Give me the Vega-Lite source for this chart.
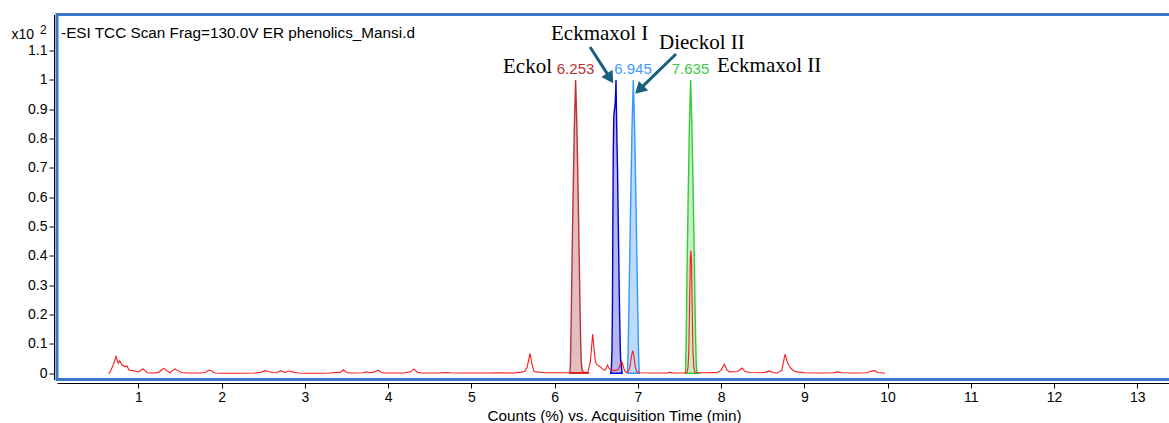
{
  "$schema": "https://vega.github.io/schema/vega-lite/v6.json",
  "width": 1114,
  "height": 365,
  "autosize": {"type": "none"},
  "padding": {"left": 57, "top": 14.5, "right": -2, "bottom": 43.5},
  "background": "white",
  "config": {
    "view": {"stroke": "#3b76c8", "strokeWidth": 3},
    "font": "Liberation Sans",
    "axis": {
      "domainColor": "black", "tickColor": "black", "labelColor": "black", "titleColor": "black",
      "labelFont": "Liberation Sans", "titleFont": "Liberation Sans",
      "labelFontSize": 14, "titleFontSize": 15.3, "titleFontWeight": "normal",
      "grid": false, "domainWidth": 1, "tickWidth": 1
    }
  },
  "datasets": {
    "tic": [
      {"t":0.64,"v":0},{"t":0.66,"v":0.003},{"t":0.70,"v":0.03},{"t":0.732,"v":0.057},{"t":0.75,"v":0.04},
      {"t":0.76,"v":0.034},{"t":0.776,"v":0.043},{"t":0.79,"v":0.035},{"t":0.808,"v":0.027},{"t":0.825,"v":0.026},
      {"t":0.84,"v":0.023},{"t":0.864,"v":0.025},{"t":0.888,"v":0.011},{"t":0.91,"v":0.01},{"t":0.936,"v":0.009},
      {"t":0.97,"v":0.007},{"t":1.0,"v":0.005},{"t":1.02,"v":0.008},{"t":1.053,"v":0.016},{"t":1.08,"v":0.009},
      {"t":1.11,"v":0.002},{"t":1.15,"v":0.001},{"t":1.2,"v":0.001},{"t":1.25,"v":0.004},{"t":1.28,"v":0.012},
      {"t":1.309,"v":0.017},{"t":1.34,"v":0.009},{"t":1.38,"v":0.002},{"t":1.41,"v":0.01},{"t":1.441,"v":0.015},
      {"t":1.47,"v":0.01},{"t":1.52,"v":0.003},{"t":1.6,"v":0.001},{"t":1.75,"v":0.001},{"t":1.8,"v":0.003},
      {"t":1.83,"v":0.008},{"t":1.854,"v":0.011},{"t":1.88,"v":0.008},{"t":1.92,"v":0.001},{"t":2.0,"v":0},
      {"t":2.2,"v":0},{"t":2.4,"v":0.001},{"t":2.48,"v":0.004},{"t":2.526,"v":0.009},{"t":2.56,"v":0.006},
      {"t":2.62,"v":0.003},{"t":2.66,"v":0.002},{"t":2.71,"v":0.009},{"t":2.76,"v":0.003},{"t":2.79,"v":0.006},
      {"t":2.815,"v":0.008},{"t":2.86,"v":0.004},{"t":2.92,"v":0.001},{"t":3.0,"v":0},{"t":3.2,"v":0},
      {"t":3.3,"v":0.001},{"t":3.43,"v":0.004},{"t":3.463,"v":0.012},{"t":3.5,"v":0.003},{"t":3.55,"v":0.001},
      {"t":3.7,"v":0.002},{"t":3.743,"v":0.005},{"t":3.78,"v":0.002},{"t":3.83,"v":0.004},{"t":3.883,"v":0.011},
      {"t":3.92,"v":0.003},{"t":3.96,"v":0.001},{"t":4.2,"v":0.001},{"t":4.27,"v":0.005},{"t":4.312,"v":0.015},
      {"t":4.35,"v":0.004},{"t":4.4,"v":0.001},{"t":4.6,"v":0.001},{"t":4.7,"v":0.003},{"t":4.75,"v":0.002},
      {"t":4.9,"v":0.001},{"t":5.2,"v":0.001},{"t":5.35,"v":0.002},{"t":5.5,"v":0.001},{"t":5.6,"v":0.004},
      {"t":5.64,"v":0.006},{"t":5.67,"v":0.02},{"t":5.705,"v":0.068},{"t":5.73,"v":0.03},{"t":5.75,"v":0.008},
      {"t":5.77,"v":0.005},{"t":5.85,"v":0.003},{"t":5.9,"v":0.002},{"t":6.0,"v":0.002},{"t":6.15,"v":0.002},
      {"t":6.25,"v":0.003},{"t":6.35,"v":0.003},{"t":6.4,"v":0.004},{"t":6.43,"v":0.04},{"t":6.458,"v":0.134},
      {"t":6.475,"v":0.08},{"t":6.49,"v":0.04},{"t":6.51,"v":0.03},{"t":6.53,"v":0.025},{"t":6.55,"v":0.022},
      {"t":6.568,"v":0.017},{"t":6.59,"v":0.012},{"t":6.608,"v":0.011},{"t":6.625,"v":0.02},{"t":6.636,"v":0.028},
      {"t":6.65,"v":0.02},{"t":6.67,"v":0.012},{"t":6.7,"v":0.01},{"t":6.74,"v":0.01},{"t":6.77,"v":0.015},
      {"t":6.79,"v":0.03},{"t":6.807,"v":0.04},{"t":6.82,"v":0.03},{"t":6.84,"v":0.01},{"t":6.86,"v":0.004},
      {"t":6.88,"v":0.003},{"t":6.905,"v":0.02},{"t":6.925,"v":0.06},{"t":6.939,"v":0.077},{"t":6.952,"v":0.06},
      {"t":6.97,"v":0.02},{"t":6.99,"v":0.005},{"t":7.02,"v":0.002},{"t":7.2,"v":0.001},{"t":7.35,"v":0.001},
      {"t":7.387,"v":0.004},{"t":7.42,"v":0.001},{"t":7.55,"v":0.001},{"t":7.59,"v":0.003},{"t":7.603,"v":0.02},
      {"t":7.613,"v":0.08},{"t":7.623,"v":0.25},{"t":7.631,"v":0.39},{"t":7.637,"v":0.418},{"t":7.644,"v":0.39},
      {"t":7.652,"v":0.25},{"t":7.662,"v":0.08},{"t":7.672,"v":0.02},{"t":7.687,"v":0.003},{"t":7.75,"v":0.002},
      {"t":7.85,"v":0.002},{"t":7.9,"v":0.003},{"t":7.95,"v":0.002},{"t":8.0,"v":0.01},{"t":8.039,"v":0.031},
      {"t":8.07,"v":0.012},{"t":8.1,"v":0.005},{"t":8.2,"v":0.006},{"t":8.252,"v":0.018},{"t":8.29,"v":0.006},
      {"t":8.35,"v":0.003},{"t":8.5,"v":0.002},{"t":8.55,"v":0.005},{"t":8.58,"v":0.008},{"t":8.62,"v":0.003},
      {"t":8.67,"v":0.001},{"t":8.73,"v":0.01},{"t":8.768,"v":0.065},{"t":8.8,"v":0.035},{"t":8.83,"v":0.02},
      {"t":8.87,"v":0.009},{"t":8.91,"v":0.005},{"t":9.0,"v":0.002},{"t":9.2,"v":0.001},{"t":9.35,"v":0.002},
      {"t":9.4,"v":0.005},{"t":9.45,"v":0.002},{"t":9.6,"v":0.001},{"t":9.75,"v":0.002},{"t":9.8,"v":0.007},
      {"t":9.837,"v":0.009},{"t":9.855,"v":0.008},{"t":9.88,"v":0.003},{"t":9.93,"v":0.002},{"t":9.97,"v":0}
    ],
    "peaks": [
      {"peak":"Eckol","t":6.185,"v":0},{"peak":"Eckol","t":6.19,"v":0.03},{"peak":"Eckol","t":6.195,"v":0.1},
      {"peak":"Eckol","t":6.202,"v":0.22},{"peak":"Eckol","t":6.211,"v":0.4},{"peak":"Eckol","t":6.222,"v":0.6},
      {"peak":"Eckol","t":6.237,"v":0.83},{"peak":"Eckol","t":6.253,"v":1.0},{"peak":"Eckol","t":6.269,"v":0.83},
      {"peak":"Eckol","t":6.284,"v":0.6},{"peak":"Eckol","t":6.296,"v":0.4},{"peak":"Eckol","t":6.306,"v":0.22},
      {"peak":"Eckol","t":6.314,"v":0.1},{"peak":"Eckol","t":6.321,"v":0.04},{"peak":"Eckol","t":6.33,"v":0.012},
      {"peak":"Eckol","t":6.345,"v":0.004},{"peak":"Eckol","t":6.417,"v":0},

      {"peak":"Eckmaxol I","t":6.675,"v":0},{"peak":"Eckmaxol I","t":6.683,"v":0.02},{"peak":"Eckmaxol I","t":6.69,"v":0.08},
      {"peak":"Eckmaxol I","t":6.696,"v":0.25},{"peak":"Eckmaxol I","t":6.7,"v":0.5},{"peak":"Eckmaxol I","t":6.705,"v":0.75},
      {"peak":"Eckmaxol I","t":6.712,"v":0.88},{"peak":"Eckmaxol I","t":6.72,"v":0.9},{"peak":"Eckmaxol I","t":6.728,"v":0.92},
      {"peak":"Eckmaxol I","t":6.734,"v":0.96},{"peak":"Eckmaxol I","t":6.738,"v":1.0},{"peak":"Eckmaxol I","t":6.743,"v":0.9},
      {"peak":"Eckmaxol I","t":6.749,"v":0.8},{"peak":"Eckmaxol I","t":6.756,"v":0.7},{"peak":"Eckmaxol I","t":6.763,"v":0.56},
      {"peak":"Eckmaxol I","t":6.77,"v":0.42},{"peak":"Eckmaxol I","t":6.777,"v":0.28},{"peak":"Eckmaxol I","t":6.784,"v":0.16},
      {"peak":"Eckmaxol I","t":6.79,"v":0.08},{"peak":"Eckmaxol I","t":6.795,"v":0.04},{"peak":"Eckmaxol I","t":6.8,"v":0.035},
      {"peak":"Eckmaxol I","t":6.807,"v":0.012},{"peak":"Eckmaxol I","t":6.812,"v":0},

      {"peak":"Dieckol II","t":6.874,"v":0},{"peak":"Dieckol II","t":6.879,"v":0.03},{"peak":"Dieckol II","t":6.885,"v":0.1},
      {"peak":"Dieckol II","t":6.893,"v":0.22},{"peak":"Dieckol II","t":6.903,"v":0.4},{"peak":"Dieckol II","t":6.915,"v":0.6},
      {"peak":"Dieckol II","t":6.93,"v":0.83},{"peak":"Dieckol II","t":6.946,"v":1.0},{"peak":"Dieckol II","t":6.962,"v":0.83},
      {"peak":"Dieckol II","t":6.977,"v":0.6},{"peak":"Dieckol II","t":6.989,"v":0.4},{"peak":"Dieckol II","t":6.999,"v":0.22},
      {"peak":"Dieckol II","t":7.007,"v":0.1},{"peak":"Dieckol II","t":7.013,"v":0.03},{"peak":"Dieckol II","t":7.018,"v":0},

      {"peak":"Eckmaxol II","t":7.571,"v":0},{"peak":"Eckmaxol II","t":7.575,"v":0.03},{"peak":"Eckmaxol II","t":7.58,"v":0.1},
      {"peak":"Eckmaxol II","t":7.586,"v":0.22},{"peak":"Eckmaxol II","t":7.594,"v":0.4},{"peak":"Eckmaxol II","t":7.605,"v":0.6},
      {"peak":"Eckmaxol II","t":7.619,"v":0.83},{"peak":"Eckmaxol II","t":7.635,"v":1.0},{"peak":"Eckmaxol II","t":7.651,"v":0.83},
      {"peak":"Eckmaxol II","t":7.666,"v":0.6},{"peak":"Eckmaxol II","t":7.678,"v":0.4},{"peak":"Eckmaxol II","t":7.688,"v":0.22},
      {"peak":"Eckmaxol II","t":7.696,"v":0.1},{"peak":"Eckmaxol II","t":7.702,"v":0.03},{"peak":"Eckmaxol II","t":7.708,"v":0.005},
      {"peak":"Eckmaxol II","t":7.732,"v":0}
    ],
    "rt": [
      {"peak":"Eckol","t":6.252,"v":1.02,"label":"6.253"},
      {"peak":"Dieckol II","t":6.942,"v":1.02,"label":"6.945"},
      {"peak":"Eckmaxol II","t":7.633,"v":1.02,"label":"7.635"}
    ],
    "names": [
      {"name":"Eckol","t":5.381,"v":1.024},
      {"name":"Eckmaxol I","t":5.957,"v":1.1364},
      {"name":"Dieckol II","t":7.255,"v":1.1057},
      {"name":"Eckmaxol II","t":7.951,"v":1.027}
    ],
    "arrows": [
      {"target":"Eckmaxol I","t":6.426,"v":1.1127,"t2":6.648,"v2":1.0147},
      {"target":"Dieckol II","t":7.459,"v":1.0886,"t2":7.043,"v2":0.9738}
    ],
    "heads": [
      {"target":"Eckmaxol I","t":6.667,"v":1.006},
      {"target":"Dieckol II","t":7.018,"v":0.9666}
    ],
    "header": [
      {"text":"-ESI TCC Scan Frag=130.0V ER phenolics_Mansi.d","t":0.0715,"v":1.142}
    ],
    "exponent": [
      {"text":"2","t":-0.181,"v":1.157}
    ]
  },
  "encoding": {
    "x": {
      "field": "t", "type": "quantitative",
      "scale": {"domain": [0.023, 13.405], "nice": false, "zero": false},
      "axis": {
        "values": [1,2,3,4,5,6,7,8,9,10,11,12,13], "format": "d",
        "title": "Counts (%) vs. Acquisition Time (min)",
        "offset": 3.5, "tickSize": 5, "labelPadding": 2, "titlePadding": 4,
        "labelFlush": false, "labelOverlap": false
      }
    },
    "y": {
      "field": "v", "type": "quantitative",
      "scale": {"domain": [-0.0211, 1.2233], "nice": false, "zero": false},
      "axis": {
        "values": [0,0.1,0.2,0.3,0.4,0.5,0.6,0.7,0.8,0.9,1,1.1], "format": "~g",
        "title": "x10", "titleFontSize": 14, "titleAngle": 0, "titleAlign": "left", "titleBaseline": "alphabetic",
        "titleX": -43, "titleY": 23.5,
        "offset": 3, "tickSize": 5, "labelPadding": 2, "labelFlush": false, "labelOverlap": false
      }
    }
  },
  "layer": [
    {
      "data": {"name": "peaks"},
      "mark": {"type": "area", "strokeWidth": 1.4, "fillOpacity": 1},
      "encoding": {
        "y2": {"datum": 0},
        "fill": {"field": "peak", "type": "nominal", "legend": null,
          "scale": {"domain": ["Eckol","Eckmaxol I","Dieckol II","Eckmaxol II"], "range": ["#dfc0c0","#b6b6ec","#bddaf8","#c6eec6"]}},
        "stroke": {"field": "peak", "type": "nominal", "legend": null,
          "scale": {"domain": ["Eckol","Eckmaxol I","Dieckol II","Eckmaxol II"], "range": ["#c03030","#0000cc","#3399ff","#33cc33"]}}
      }
    },
    {
      "data": {"name": "tic"},
      "mark": {"type": "line", "color": "#ff1a1a", "strokeWidth": 1.1}
    },
    {
      "data": {"name": "arrows"},
      "mark": {"type": "rule", "color": "#1b5f7e", "strokeWidth": 3},
      "encoding": {"x2": {"field": "t2"}, "y2": {"field": "v2"}}
    },
    {
      "data": {"name": "heads"},
      "transform": [{"filter": "datum.target === 'Eckmaxol I'"}],
      "mark": {"type": "point", "shape": "triangle-up", "filled": true, "color": "#1b5f7e", "opacity": 1, "size": 180, "angle": 147.5}
    },
    {
      "data": {"name": "heads"},
      "transform": [{"filter": "datum.target === 'Dieckol II'"}],
      "mark": {"type": "point", "shape": "triangle-up", "filled": true, "color": "#1b5f7e", "opacity": 1, "size": 180, "angle": 225.7}
    },
    {
      "data": {"name": "names"},
      "mark": {"type": "text", "font": "Liberation Serif", "fontSize": 21, "align": "left", "baseline": "alphabetic", "color": "black"},
      "encoding": {"text": {"field": "name"}}
    },
    {
      "data": {"name": "rt"},
      "mark": {"type": "text", "font": "Liberation Sans", "fontSize": 15, "align": "center", "baseline": "alphabetic"},
      "encoding": {
        "text": {"field": "label"},
        "color": {"field": "peak", "type": "nominal", "legend": null,
          "scale": {"domain": ["Eckol","Dieckol II","Eckmaxol II"], "range": ["#b83232","#3d9bff","#3ec93e"]}}
      }
    },
    {
      "data": {"name": "header"},
      "mark": {"type": "text", "font": "Liberation Sans", "fontSize": 15.3, "align": "left", "baseline": "alphabetic", "color": "black"},
      "encoding": {"text": {"field": "text"}}
    },
    {
      "data": {"name": "exponent"},
      "mark": {"type": "text", "font": "Liberation Sans", "fontSize": 12, "align": "left", "baseline": "alphabetic", "color": "black"},
      "encoding": {"text": {"field": "text"}}
    }
  ]
}
